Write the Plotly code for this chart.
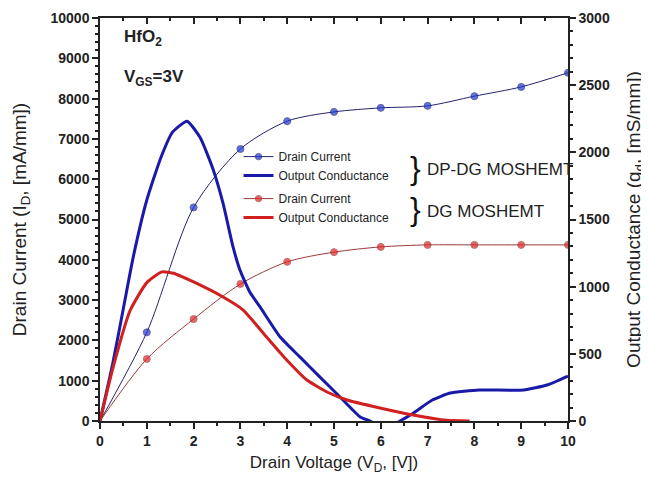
import plotly.graph_objects as go

# Drain current data (left axis, mA/mm)
vd_points = [0, 1, 2, 3, 4, 5, 6, 7, 8, 9, 10]
id_dpdg = [0, 2200, 5300, 6750, 7440, 7670, 7770, 7820, 8060, 8290, 8640]
id_dg = [0, 1540, 2530, 3400, 3950, 4190, 4320, 4370, 4370, 4370, 4370]

# Output conductance (right axis, mS/mm)
vd_gd_dpdg = [0, 0.28, 0.5, 0.71, 1.0, 1.3, 1.55, 1.86, 2.14, 2.41, 2.63, 2.84, 2.99, 3.2, 3.42, 3.85,
              4.27, 4.7, 5.13, 5.56, 5.77, 6.1, 6.41, 6.7, 7.1, 7.48, 8.1, 9.05, 9.55, 10]
gd_dpdg = [0, 440, 840, 1220, 1645, 1960, 2150, 2232, 2110, 1880, 1620, 1300, 1124, 960, 849, 625,
           477, 327, 179, 30, 0, -60, 0, 60, 156, 208, 231, 231, 268, 335]
vd_gd_dg = [0, 0.28, 0.64, 1.0, 1.32, 1.57, 2.0, 2.63, 3.06, 3.56, 3.99, 4.42, 4.85, 5.28,
            5.98, 6.69, 7.41, 7.9]
gd_dg = [0, 400, 820, 1030, 1110, 1100, 1035, 923, 826, 625, 454, 305, 216, 156,
         97, 45, 5, 0]

BLUE_M = "#1f35d8"
BLUE_L = "#23236e"
BLUE_T = "#1a1aa8"
RED_M = "#e52222"
RED_L = "#9c3a3a"
RED_T = "#d02020"

FAM = "Liberation Sans, Arial"
tickfont = dict(family=FAM, size=14, color="#222222", weight="bold")

fig = go.Figure()

fig.add_trace(go.Scatter(
    x=vd_points, y=id_dpdg, name="Drain Current", mode="lines+markers",
    line=dict(color=BLUE_L, width=1, shape="spline", smoothing=0.8),
    marker=dict(color=BLUE_M, size=[0] + [7] * 10, symbol="circle"),
    legendgroup="a", yaxis="y"))
fig.add_trace(go.Scatter(
    x=vd_gd_dpdg, y=gd_dpdg, name="Output Conductance", mode="lines",
    line=dict(color=BLUE_T, width=3, shape="spline", smoothing=0.5),
    legendgroup="a", yaxis="y2"))
fig.add_trace(go.Scatter(
    x=vd_points, y=id_dg, name="Drain Current", mode="lines+markers",
    line=dict(color=RED_L, width=1, shape="spline", smoothing=0.8),
    marker=dict(color=RED_M, size=[0] + [7] * 10, symbol="circle"),
    legendgroup="b", yaxis="y"))
fig.add_trace(go.Scatter(
    x=vd_gd_dg, y=gd_dg, name="Output Conductance", mode="lines",
    line=dict(color=RED_T, width=3, shape="spline", smoothing=0.5),
    legendgroup="b", yaxis="y2"))
# empty trace to show the top axis with inward ticks
fig.add_trace(go.Scatter(x=[None], y=[None], xaxis="x2", yaxis="y", showlegend=False,
                         hoverinfo="skip"))

axis_common = dict(showgrid=False, zeroline=False, showline=True, linecolor="#222",
                   linewidth=1.5, tickwidth=1.5, tickcolor="#222", automargin=False)

fig.update_layout(
    width=641, height=485,
    margin=dict(l=92, r=81, t=10, b=72),
    paper_bgcolor="white", plot_bgcolor="white",
    font=dict(family=FAM, color="#222222"),
    xaxis=dict(axis_common, range=[0, 10], dtick=1, tick0=0,
               ticks="outside", ticklen=6,
               minor=dict(dtick=0.5, ticks="outside", ticklen=3, tickcolor="#222"),
               tickfont=tickfont,
               title=dict(text="Drain Voltage (V<sub>D</sub>, [V])",
                          font=dict(family=FAM, size=17, color="#222"), standoff=9)),
    xaxis2=dict(axis_common, range=[0, 10], dtick=1, overlaying="x", side="top",
                ticks="inside", ticklen=6,
                minor=dict(dtick=0.5, ticks="inside", ticklen=3, tickcolor="#222"),
                showticklabels=False),
    yaxis=dict(axis_common, range=[0, 10000], dtick=1000, tickformat="d",
               ticks="outside", ticklen=6,
               minor=dict(dtick=200, ticks="outside", ticklen=3, tickcolor="#222"),
               tickfont=tickfont,
               title=dict(text="Drain Current (I<sub>D</sub>, [mA/mm])",
                          font=dict(family=FAM, size=19, color="#222"), standoff=19)),
    yaxis2=dict(axis_common, range=[0, 3000], dtick=500, tickformat="d", overlaying="y", side="right",
                ticks="outside", ticklen=6,
                minor=dict(dtick=100, ticks="outside", ticklen=3, tickcolor="#222"),
                tickfont=tickfont,
                title=dict(text="Output Conductance (g<sub>d</sub>, [mS/mm])",
                           font=dict(family=FAM, size=19, color="#222"), standoff=18)),
    legend=dict(x=0.296, y=0.692, xanchor="left", yanchor="top", bgcolor="rgba(0,0,0,0)",
                font=dict(family=FAM, size=12, color="#222"),
                traceorder="grouped", tracegroupgap=4, itemwidth=30),
    showlegend=True,
)

fig.add_annotation(xref="paper", yref="paper", x=0.047, y=0.95, xanchor="left", yanchor="middle",
                   text="<b>HfO<sub>2</sub></b>", showarrow=False,
                   font=dict(family=FAM, size=17, color="#222"))
fig.add_annotation(xref="paper", yref="paper", x=0.047, y=0.85, xanchor="left", yanchor="middle",
                   text="<b>V<sub>GS</sub>=3V</b>", showarrow=False,
                   font=dict(family=FAM, size=17, color="#222"))
fig.add_annotation(xref="paper", yref="paper", x=0.658, y=0.628, xanchor="left", yanchor="middle",
                   text="}", showarrow=False,
                   font=dict(family=FAM, size=32, color="#111"))
fig.add_annotation(xref="paper", yref="paper", x=0.694, y=0.623, xanchor="left", yanchor="middle",
                   text="DP-DG MOSHEMT", showarrow=False,
                   font=dict(family=FAM, size=17, color="#222"))
fig.add_annotation(xref="paper", yref="paper", x=0.658, y=0.526, xanchor="left", yanchor="middle",
                   text="}", showarrow=False,
                   font=dict(family=FAM, size=32, color="#111"))
fig.add_annotation(xref="paper", yref="paper", x=0.694, y=0.521, xanchor="left", yanchor="middle",
                   text="DG MOSHEMT", showarrow=False,
                   font=dict(family=FAM, size=17, color="#222"))

fig.write_html("out.html")
